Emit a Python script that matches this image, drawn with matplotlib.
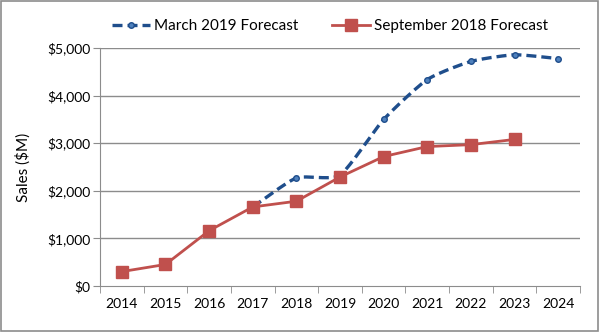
import numpy as np
import matplotlib
matplotlib.use('Agg')
import matplotlib.pyplot as plt
from matplotlib.ticker import FuncFormatter
from matplotlib.lines import Line2D

plt.rcParams['font.family'] = ['Lato', 'DejaVu Sans']

years = ['2014', '2015', '2016', '2017', '2018', '2019', '2020', '2021', '2022', '2023', '2024']
# September 2018 forecast, 2014-2023
sep2018 = [300, 450, 1160, 1660, 1780, 2290, 2720, 2930, 2970, 3080]
# March 2019 forecast, 2017-2024
mar2019 = [1660, 2270, 2330, 3500, 4340, 4720, 4860, 4780]
yticks = [0, 1000, 2000, 3000, 4000, 5000]


def smooth(x, y, n=20, k=0.1):
    # bezier through the points, a gentler curve like the excel smoothed line
    x = np.asarray(x, float)
    y = np.asarray(y, float)
    px = np.concatenate(([2*x[0]-x[1]], x, [2*x[-1]-x[-2]]))
    py = np.concatenate(([2*y[0]-y[1]], y, [2*y[-1]-y[-2]]))
    xs, ys = [], []
    t = np.linspace(0, 1, n)
    for i in range(1, len(px)-2):
        for p, out in ((px, xs), (py, ys)):
            p0, p1, p2, p3 = p[i-1], p[i], p[i+1], p[i+2]
            b1 = p1 + (p2 - p0)*k
            b2 = p2 - (p3 - p1)*k
            out.extend((1-t)**3*p1 + 3*(1-t)**2*t*b1 + 3*(1-t)*t**2*b2 + t**3*p2)
    return xs, ys


fig = plt.figure(figsize=(6, 3.32), dpi=100)
ax = fig.add_axes([0.1667, 0.139, 0.8, 0.716])

xr = np.arange(len(sep2018))
xb = np.arange(3, 3 + len(mar2019))

for v in yticks[1:]:
    ax.axhline(v, color='#8c8c8c', lw=1.0, zorder=1)

dash = (0, (3.0, 1.5))
sx, sy = smooth(xb, mar2019)
ax.plot(sx, sy, color='#1f4e8c', lw=2.4, ls=dash, zorder=3)
ax.plot(xb, mar2019, 'o', color='#4f81bd', mec='#1f4e8c', ms=4, zorder=3)
ax.plot(xr, sep2018, '-s', color='#c0504d', lw=2, ms=8, mfc='#c0504d',
        mec='#c0504d', zorder=4)

ax.set_xlim(-0.5, len(years) - 0.5)
ax.set_ylim(0, 5000)
ax.set_yticks(yticks)
ax.yaxis.set_major_formatter(FuncFormatter(lambda v, p: '${:,.0f}'.format(v)))
ax.set_xticks(np.arange(len(years)))
ax.set_xticklabels(years)
ax.set_xticks(np.arange(-0.5, len(years)), minor=True)
ax.tick_params(axis='x', which='major', length=0, pad=9, labelsize=10)
ax.tick_params(axis='x', which='minor', length=5, color='#8c8c8c', direction='out')
ax.tick_params(axis='y', length=5, color='#8c8c8c', labelsize=10, pad=2)

for s in ['top', 'right']:
    ax.spines[s].set_visible(False)
for s in ['left', 'bottom']:
    ax.spines[s].set_color('#8c8c8c')

ax.set_ylabel('Sales ($M)', fontsize=11, labelpad=12)

h1 = Line2D([], [], color='#1f4e8c', lw=2.4, ls=dash, marker='o',
            mfc='#4f81bd', mec='#1f4e8c', ms=4)
h2 = Line2D([], [], color='#c0504d', lw=2, marker='s', ms=8)
ax.legend([h1, h2], ['March 2019 Forecast', 'September 2018 Forecast'],
          loc='lower center', bbox_to_anchor=(0.479, 1.025), ncol=2, frameon=False,
          fontsize=11, handlelength=2.5, columnspacing=2.2, handletextpad=0.25,
          borderaxespad=0.2)

fig.patches.append(plt.Rectangle((0.002, 0.003), 0.995, 0.993, transform=fig.transFigure,
                                 fill=False, edgecolor='#8c8c8c', lw=1.2))

fig.savefig('out.png', dpi=100)
